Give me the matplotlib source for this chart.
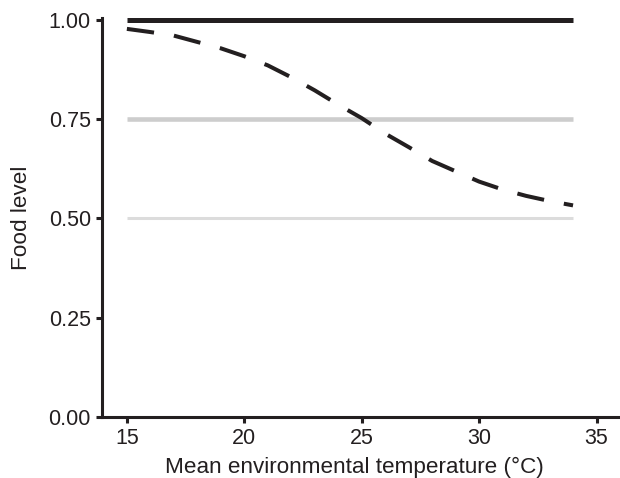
import matplotlib
matplotlib.use("Agg")
import matplotlib.pyplot as plt

plt.rcParams['font.family'] = ['Liberation Sans', 'DejaVu Sans']

# food levels tested (constant) and the temperature-dependent one
temps = [15, 16, 17, 18, 19, 20, 21, 22, 23, 24, 25,
         26, 27, 28, 29, 30, 31, 32, 33, 34]
food_var = [0.978, 0.970, 0.961, 0.945, 0.929, 0.909, 0.886, 0.856, 0.823, 0.787, 0.753,
            0.714, 0.680, 0.645, 0.619, 0.593, 0.573, 0.557, 0.544, 0.533]
const_levels = [1.0, 0.75, 0.5]
const_colors = ['#231f20', '#cdcdcd', '#dcdcdc']
const_widths = [3.6, 3.3, 2.2]

x_ticks = [15, 20, 25, 30, 35]
y_ticks = [0.0, 0.25, 0.5, 0.75, 1.0]

fig = plt.figure(figsize=(6.2, 4.78), dpi=100)
ax = fig.add_axes([0.1645, 0.128, 0.8355, 0.834])

t0, t1 = temps[0], temps[-1]
for lvl, c, w in zip(const_levels, const_colors, const_widths):
    ax.plot([t0, t1], [lvl, lvl], color=c, lw=w, solid_capstyle='butt', clip_on=False)

ax.plot(temps, food_var, color='#231f20', lw=2.9, ls=(0, (6.8, 5.0)), clip_on=False)

ax.set_xlim(13.94, 36.0)
ax.set_ylim(0, 1.005)
ax.set_xticks(x_ticks)
ax.set_yticks(y_ticks)
ax.set_yticklabels([f"{v:.2f}" for v in y_ticks])

for s in ['top', 'right']:
    ax.spines[s].set_visible(False)
for s in ['left', 'bottom']:
    ax.spines[s].set_linewidth(2.2)
    ax.spines[s].set_color('#231f20')
ax.tick_params(width=2.2, length=4, color='#231f20', labelsize=15.5,
               labelcolor='#231f20', pad=4)

ax.set_xlabel("Mean environmental temperature (°C)", fontsize=16.2, color='#231f20',
              va='baseline')
ax.set_ylabel("Food level", fontsize=16.2, color='#231f20', va='center')
ax.xaxis.set_label_coords(0.4865, -0.141)
ax.yaxis.set_label_coords(-0.156, 0.5)

fig.savefig("out.png", dpi=100)
